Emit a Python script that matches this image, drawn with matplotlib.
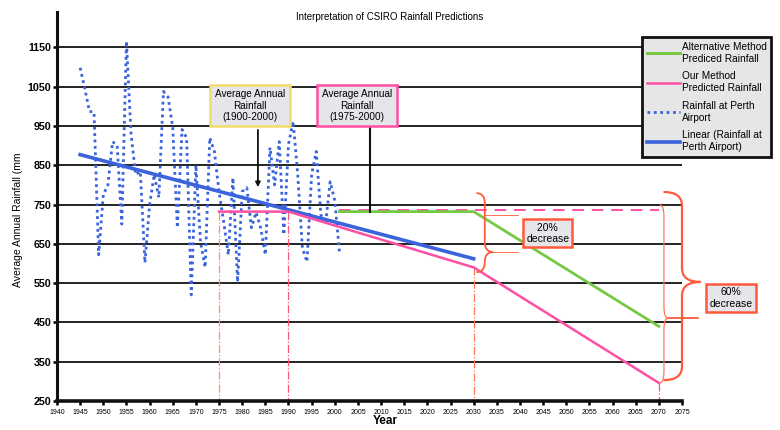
import numpy as np
import matplotlib
matplotlib.use('Agg')
import matplotlib.pyplot as plt
from matplotlib.path import Path
from matplotlib.patches import PathPatch
from matplotlib.lines import Line2D

plt.rcParams['font.family'] = ['Liberation Sans', 'DejaVu Sans']

# Rainfall at Perth Airport (mm)
years = list(range(1945, 2002))
rainfall = [1098, 1046, 987, 985, 622, 775, 800, 910, 900, 700,
            1165, 928, 826, 834, 602, 750, 826, 768, 1038, 1023,
            946, 691, 941, 920, 520, 850, 655, 590, 920, 885,
            783, 706, 622, 818, 553, 783, 793, 691, 730, 690,
            622, 895, 800, 910, 673, 903, 962, 826, 640, 604,
            826, 885, 724, 700, 808, 760, 630]

# Linear trend of the airport record
trend_years = [1945, 2030]
trend_vals = [877, 612]

# Our method prediction
our_years = [1975, 1990, 2030, 2070]
our_vals = [732, 732, 590, 296]

# Alternative method prediction
alt_years = [2001, 2030, 2070]
alt_vals = [732, 732, 440]

# dashed reference level
ref_years = [2001, 2070]
ref_vals = [735, 735]

x_ticks = list(range(1940, 2080, 5))
y_ticks = list(range(250, 1250, 100))

BLUE = '#3a63dc'
PINK = '#ff4fa3'
GREEN = '#76c845'
RED = '#ff5a3c'

fig = plt.figure(figsize=(7.8, 4.3), dpi=100)
ax = fig.add_axes([57/780, 1 - 401/430, 625/780, 389/430])
ax.set_xlim(1940, 2075)
ax.set_ylim(250, 1240)

# grid lines
for v in y_ticks[1:]:
    ax.axhline(v, color='#222222', lw=1.4, zorder=1)

# vertical dashed markers
ax.plot([1975, 1975], [732, 250], color='#ff9066', lw=0.9, ls='-.', zorder=2)
ax.plot([1990, 1990], [732, 250], color='#ff5577', lw=0.9, ls='-.', zorder=2)
ax.plot([2030, 2030], [590, 250], color='#ff7755', lw=0.9, ls='-.', zorder=2)
ax.plot([2070, 2070], [296, 250], color='#ff5577', lw=0.9, ls='-.', zorder=2)

ax.plot(years, rainfall, color=BLUE, lw=2, ls=(0, (1, 1.3)), zorder=3)
ax.plot(trend_years, trend_vals, color=BLUE, lw=2.6, zorder=4)
ax.plot(ref_years, ref_vals, color=PINK, lw=1.4, ls=(0, (6, 4)), zorder=3)
ax.plot(alt_years, alt_vals, color=GREEN, lw=2, zorder=4)
ax.plot(our_years, our_vals, color=PINK, lw=1.8, zorder=4)

# axes styling
for s in ['top', 'right']:
    ax.spines[s].set_visible(False)
ax.spines['left'].set_linewidth(2.2)
ax.spines['bottom'].set_linewidth(2.6)
ax.spines['bottom'].set_color('#111111')
ax.spines['left'].set_color('#111111')
ax.set_xticks(x_ticks)
ax.set_xticklabels([str(y) for y in x_ticks], fontsize=5)
ax.set_yticks(y_ticks)
ax.set_yticklabels([str(v) for v in y_ticks], fontsize=7.7, fontweight='bold')
ax.tick_params(axis='x', length=3, width=1.8, pad=3)
ax.tick_params(axis='y', length=3, width=1.8, pad=1)

fig.text(0.5, 1 - 17/430, 'Interpretation of CSIRO Rainfall Predictions',
         ha='center', va='center', fontsize=7)
fig.text(18/780, 1 - 220/430, 'Average Annual Rainfall (mm', rotation=90,
         ha='center', va='center', fontsize=7.5)
fig.text(385/780, 1 - 421/430, 'Year', ha='center', va='center',
         fontsize=8.5, fontweight='bold')


def brace(x0, w, y0, y1, ym, r, color, lw):
    xm = x0 + w / 2
    verts = [(x0, y1), (xm, y1), (xm, y1 - r), (xm, ym + r),
             (xm, ym), (x0 + w, ym), (xm, ym), (xm, ym - r),
             (xm, y0 + r), (xm, y0), (x0, y0)]
    codes = [Path.MOVETO, Path.CURVE3, Path.CURVE3, Path.LINETO,
             Path.CURVE3, Path.CURVE3, Path.CURVE3, Path.CURVE3,
             Path.LINETO, Path.CURVE3, Path.CURVE3]
    ax.add_patch(PathPatch(Path(verts, codes), fill=False, ec=color,
                           lw=lw, clip_on=False, zorder=5))


# 20% bracket
brace(2030.6, 3.6, 578, 779, 629, 25, RED, 1.3)
ax.plot([2032.5, 2039.5], [723, 723], color=RED, lw=0.6, clip_on=False)
ax.plot([2034.2, 2039.5], [629, 629], color=RED, lw=0.6, clip_on=False)
# 60% brackets
brace(2070.2, 1.8, 296, 749, 461, 30, '#ff7a55', 0.9)
brace(2071.0, 8.0, 303, 782, 553, 35, RED, 1.6)
ax.plot([2072.0, 2078.5], [461, 461], color=RED, lw=1.3, clip_on=False)

box_kw = dict(boxstyle='square,pad=0.45', fc='#e6e6ea', lw=1.8)
ax.text(1981.7, 1002, 'Average Annual\nRainfall\n(1900-2000)', ha='center',
        va='center', fontsize=7.2, linespacing=1.15,
        bbox=dict(ec='#f2dc6a', **box_kw), zorder=6)
ax.text(2004.8, 1002, 'Average Annual\nRainfall\n(1975-2000)', ha='center',
        va='center', fontsize=7.2, linespacing=1.15,
        bbox=dict(ec=PINK, **box_kw), zorder=6)
ax.text(2046.0, 677, ' 20% \ndecrease', ha='center', va='center',
        fontsize=7.5, linespacing=1.15,
        bbox=dict(ec=RED, boxstyle='square,pad=0.3', fc='#e6e6ea', lw=1.8),
        zorder=6)
ax.text(2085.6, 512, '60%\ndecrease', ha='center', va='center', fontsize=7.5,
        linespacing=1.15,
        bbox=dict(ec=RED, boxstyle='square,pad=0.35', fc='#e6e6ea', lw=1.8),
        zorder=6, clip_on=False)

ax.annotate('', xy=(1983.4, 787), xytext=(1983.4, 947),
            arrowprops=dict(arrowstyle='-|>', color='#111111', lw=1.3,
                            mutation_scale=7), zorder=5)
ax.plot([2007.6, 2007.6], [947, 732], color='#111111', lw=1.5, zorder=5)

handles = [Line2D([], [], color=GREEN, lw=2.2),
           Line2D([], [], color=PINK, lw=1.8),
           Line2D([], [], color=BLUE, lw=2, ls=(0, (1, 1.3))),
           Line2D([], [], color=BLUE, lw=2.6)]
labels = ['Alternative Method\nPrediced Rainfall',
          'Our Method\nPredicted Rainfall',
          'Rainfall at Perth\nAirport',
          'Linear (Rainfall at\nPerth Airport)']
leg = fig.legend(handles, labels, loc='upper left',
                 bbox_to_anchor=(642/780, 1 - 37/430), fontsize=7.3,
                 frameon=True, fancybox=False, handlelength=3.3,
                 handletextpad=0.2, labelspacing=0.75, borderpad=0.45,
                 borderaxespad=0)
for t in leg.get_texts():
    t.set_linespacing(1.25)
leg.get_frame().set_edgecolor('#111111')
leg.get_frame().set_linewidth(2)
leg.get_frame().set_facecolor('#e6e6e6')
leg.get_frame().set_alpha(1)

fig.savefig('out.png', dpi=100)
